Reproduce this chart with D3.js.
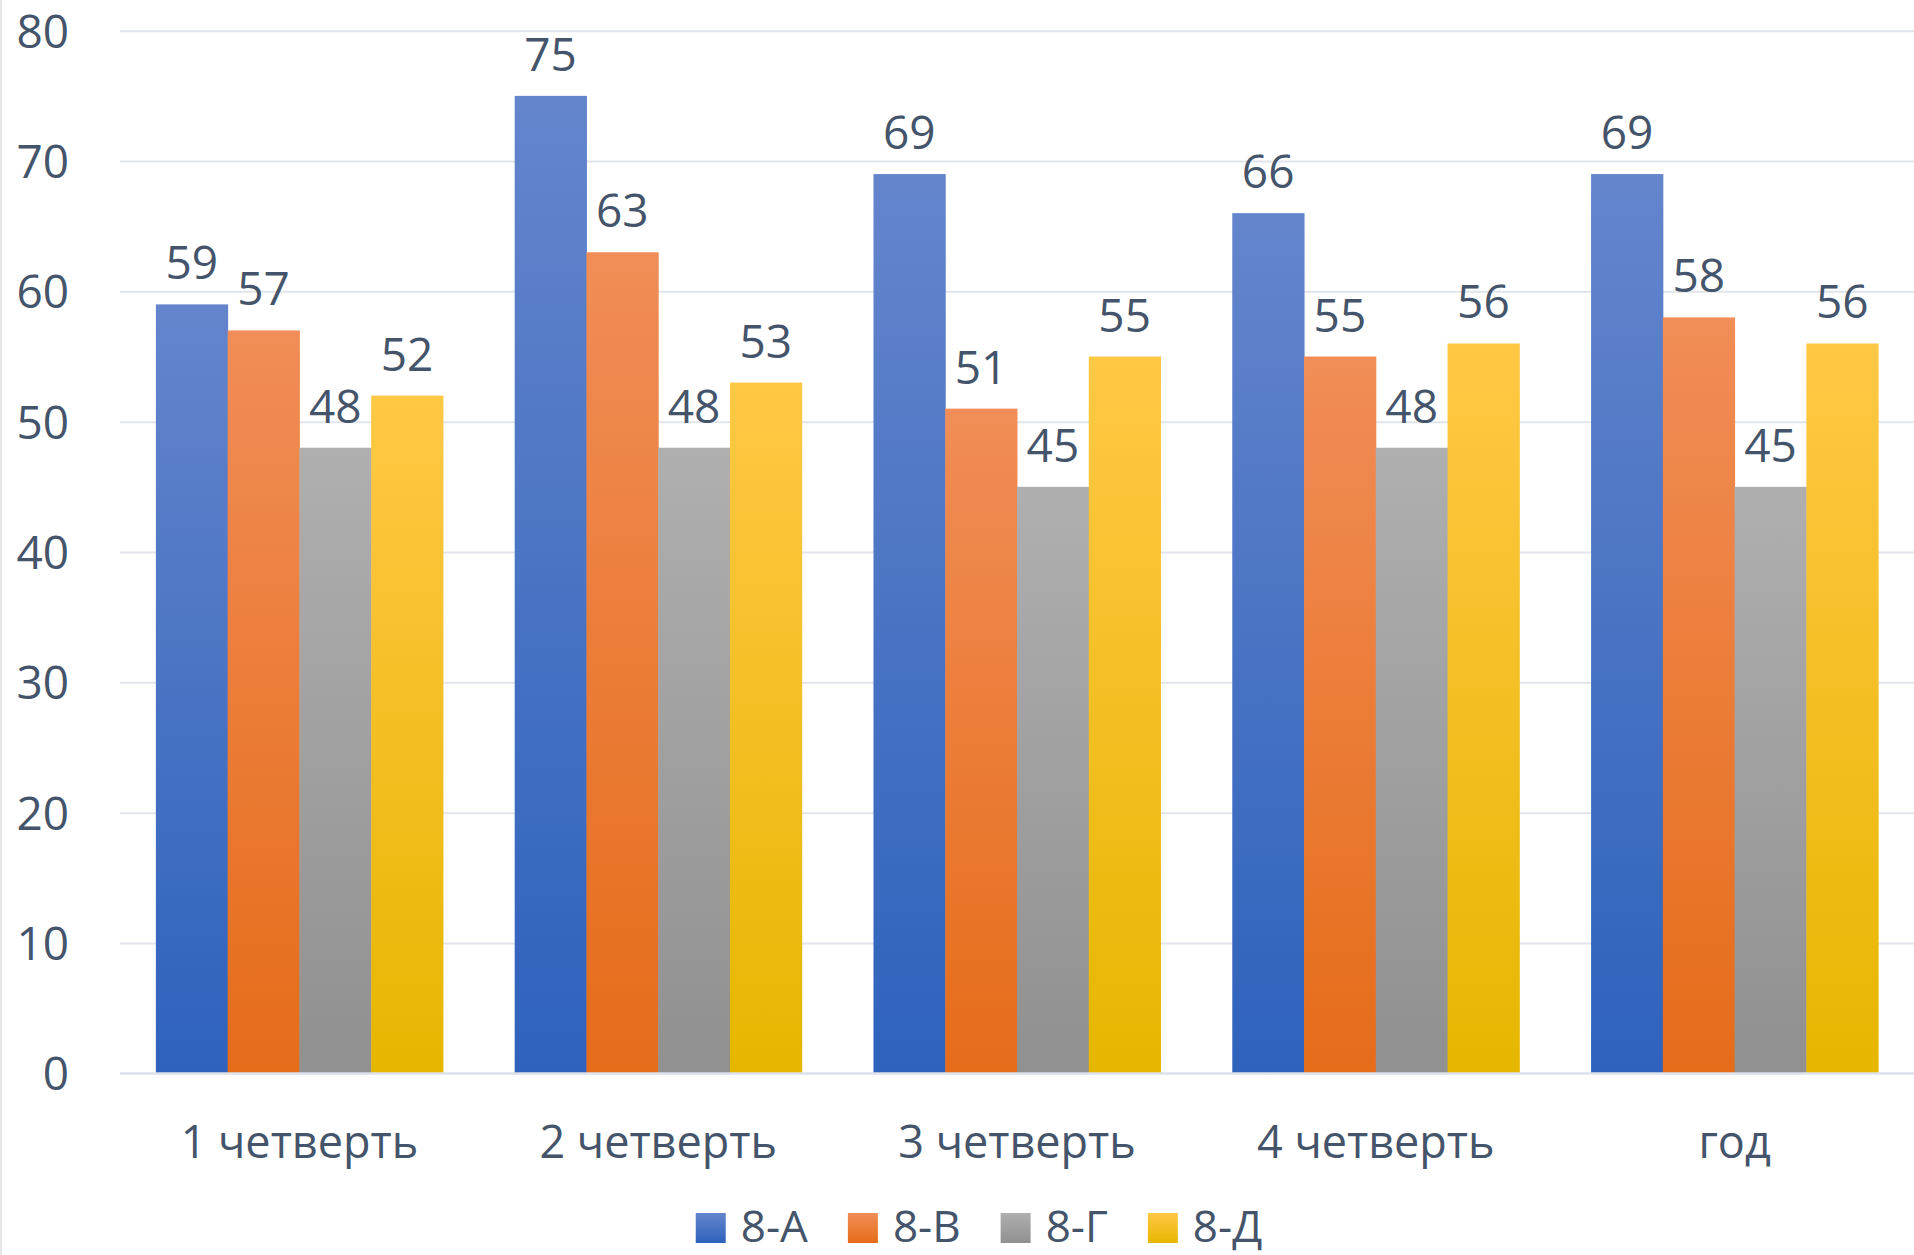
<!DOCTYPE html>
<html>
<head>
<meta charset="utf-8">
<script src="https://cdn.jsdelivr.net/npm/d3@7"></script>
<style>
  body { margin: 0; background: #fff; }
  text { font-family: "Open Sans", "Noto Sans", sans-serif; fill: #44546a; }
</style>
</head>
<body>
<script>
// chart data
const categories = ["1 четверть", "2 четверть", "3 четверть", "4 четверть", "год"];
const seriesNames = ["8-А", "8-В", "8-Г", "8-Д"];
const values8A = [59, 75, 69, 66, 69];
const values8B = [57, 63, 51, 55, 58];
const values8G = [48, 48, 45, 48, 45];
const values8D = [52, 53, 55, 56, 56];
const yTicks = [0, 10, 20, 30, 40, 50, 60, 70, 80];

const seriesValues = [values8A, values8B, values8G, values8D];

// gradient colours per series (top, bottom)
const colors = [
  ["#6485cc", "#2e62bc"],
  ["#f18d57", "#e56c19"],
  ["#afafaf", "#909090"],
  ["#ffc845", "#e5b700"]
];

const w = 1914;
const h = 1255;
const plotLeft = 120, plotRight = 1914, plotTop = 30.7, plotBottom = 1073.3;

const svg = d3.select("body").append("svg")
  .attr("width", w)
  .attr("height", h);

// gradients
const defs = svg.append("defs");
colors.forEach(function(c, i) {
  const g = defs.append("linearGradient")
    .attr("id", "grad" + i)
    .attr("x1", 0).attr("y1", 0).attr("x2", 0).attr("y2", 1);
  g.append("stop").attr("offset", "0%").attr("stop-color", c[0]);
  g.append("stop").attr("offset", "100%").attr("stop-color", c[1]);
});

// faint chart border on the left
svg.append("line")
  .attr("x1", 1).attr("x2", 1).attr("y1", 0).attr("y2", h)
  .attr("stroke", "#e6e6e6").attr("stroke-width", 2);

const x0 = d3.scaleBand()
  .domain(categories)
  .range([plotLeft, plotRight])
  .paddingInner(0.2)
  .paddingOuter(0.1);

const x1 = d3.scaleBand()
  .domain(seriesNames)
  .range([0, x0.bandwidth()]);

const y = d3.scaleLinear()
  .domain([0, 80])
  .range([plotBottom, plotTop]);

// y axis with gridlines
const yAxis = svg.append("g")
  .attr("transform", "translate(" + plotLeft + ",0)")
  .call(d3.axisLeft(y).tickValues(yTicks).tickSize(-(plotRight - plotLeft)).tickPadding(51));
yAxis.select(".domain").remove();
yAxis.selectAll("line").attr("stroke", "#e1e5eb").attr("stroke-width", 2);
yAxis.selectAll("text")
  .attr("dy", "0.36em")
  .style("font-size", "46px")
  .style("font-family", "'Open Sans', 'Noto Sans', sans-serif")
  .attr("fill", "#44546a");

// bars
const groups = svg.append("g").selectAll("g")
  .data(categories)
  .join("g")
  .attr("transform", function(d) { return "translate(" + x0(d) + ",0)"; });

groups.selectAll("rect")
  .data(function(d, ci) {
    return seriesNames.map(function(s, si) { return { s: s, si: si, v: seriesValues[si][ci] }; });
  })
  .join("rect")
  .attr("x", function(d) { return x1(d.s); })
  .attr("y", function(d) { return y(d.v); })
  .attr("width", x1.bandwidth() + 0.5)
  .attr("height", function(d) { return y(0) - y(d.v); })
  .attr("fill", function(d) { return "url(#grad" + d.si + ")"; });

// value labels
groups.selectAll("text")
  .data(function(d, ci) {
    return seriesNames.map(function(s, si) { return { s: s, si: si, v: seriesValues[si][ci] }; });
  })
  .join("text")
  .attr("x", function(d) { return x1(d.s) + x1.bandwidth() / 2; })
  .attr("y", function(d) { return y(d.v) - 25; })
  .attr("text-anchor", "middle")
  .style("font-size", "46px")
  .text(function(d) { return d.v; });

// x axis line
svg.append("line")
  .attr("x1", plotLeft).attr("x2", plotRight)
  .attr("y1", y(0)).attr("y2", y(0))
  .attr("stroke", "#dde2ea").attr("stroke-width", 2);

// category labels
const xAxis = svg.append("g")
  .attr("transform", "translate(0," + y(0) + ")")
  .call(d3.axisBottom(x0).tickSize(0).tickPadding(0));
xAxis.select(".domain").remove();
xAxis.selectAll("text")
  .attr("dy", null)
  .attr("y", 85)
  .style("font-size", "45px")
  .style("font-family", "'Open Sans', 'Noto Sans', sans-serif")
  .attr("fill", "#44546a");

// legend
const legend = svg.append("g");
let lx = 0;
seriesNames.forEach(function(name, i) {
  legend.append("rect")
    .attr("x", lx).attr("y", 1213)
    .attr("width", 30).attr("height", 30)
    .attr("fill", "url(#grad" + i + ")");
  const t = legend.append("text")
    .attr("x", lx + 45).attr("y", 1242)
    .style("font-size", "44px")
    .text(name);
  lx += 45 + t.node().getComputedTextLength() + 40;
});
lx -= 40;
legend.attr("transform", "translate(" + (979 - lx / 2) + ",0)");
</script>
</body>
</html>
